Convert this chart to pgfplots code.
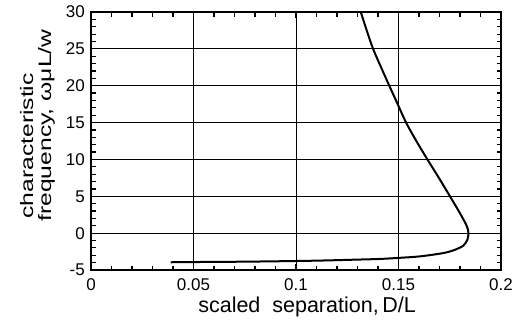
\documentclass[border=0pt]{standalone}
\usepackage{fontspec}
\setmainfont{Liberation Sans}
\usepackage{graphicx}
\usepackage{pgfplots}
\pgfplotsset{compat=1.18}
\begin{document}
\begin{tikzpicture}
\useasboundingbox (-91pt,-52pt) rectangle (427pt,270pt);
\begin{axis}[
  at={(0,0)}, anchor=south west,
  scale only axis, width=410pt, height=258pt,
  xmin=0, xmax=0.2, ymin=-5, ymax=30,
  xtick={0,0.05,0.1,0.15,0.2},
  xticklabels={0,0.05,0.1,0.15,0.2},
  ytick={-5,0,5,10,15,20,25,30},
  yticklabels={-5,0,5,10,15,20,25,30},
  scaled x ticks=false, scaled y ticks=false,
  minor x tick num=4, minor y tick num=4,
  tick align=inside,
  major tick length=6pt, minor tick length=4.5pt,
  xmajorgrids, ymajorgrids,
  grid style={black, line width=0.8pt},
  axis line style={line width=1.5pt},
  every tick/.style={black, line width=1.2pt},
  tick label style={font=\fontsize{17}{17}\selectfont},
  xticklabel style={anchor=base, yshift=-20pt},
  yticklabel style={anchor=east, inner xsep=0pt, xshift=-6pt},
  xlabel={scaled\ \ separation,\,D/L},
  xlabel style={font=\fontsize{21.5}{21.5}\selectfont, at={(axis description cs:0.527,-0.163)}, anchor=base, inner sep=0pt},
  ylabel={\hspace*{3pt}\scalebox{1.37}[1]{characteristic}\\\scalebox{1.37}[1]{frequency, ωμL/w}},
  ylabel style={font=\fontsize{18}{18}\selectfont, align=left, inner sep=0pt, rotate=0, at={(axis description cs:-0.0878,0.187)}, anchor=south west},
]
\addplot[black, line width=2pt, smooth] coordinates {
(0.1316,30)
(0.1345,27.5)
(0.1376,25)
(0.1415,22.5)
(0.1455,20)
(0.1496,17.5)
(0.1537,15)
(0.1587,12.5)
(0.1641,10)
(0.1697,7.5)
(0.1751,5)
(0.1800,2.7)
(0.1834,0.9)
(0.1841,0)
(0.1836,-0.9)
(0.1816,-1.7)
(0.1776,-2.25)
(0.1719,-2.7)
(0.1605,-3.15)
(0.1504,-3.35)
(0.1410,-3.5)
(0.1310,-3.58)
(0.1150,-3.7)
(0.1000,-3.78)
(0.0750,-3.87)
(0.0500,-3.92)
(0.0389,-3.95)
};
\end{axis}
\end{tikzpicture}
\end{document}
